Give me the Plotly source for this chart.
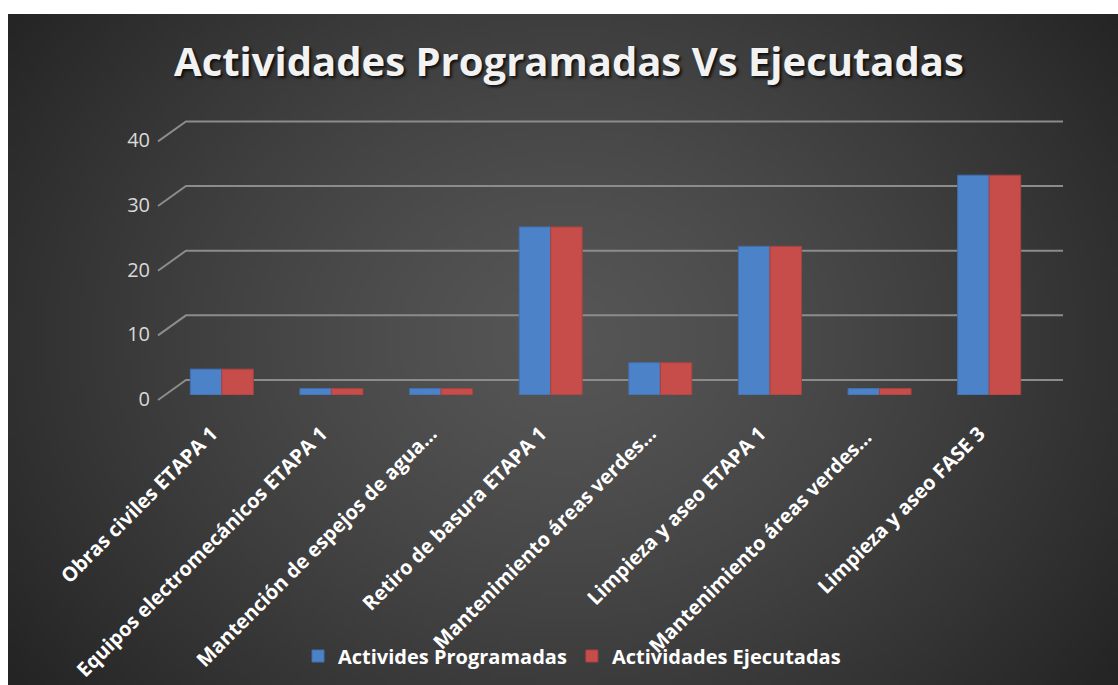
import base64, struct, zlib
import numpy as np
import plotly.graph_objects as go

categories = [
    "Obras civiles ETAPA 1",
    "Equipos electromecánicos ETAPA 1",
    "Mantención de espejos de agua…",
    "Retiro de basura ETAPA 1",
    "Mantenimiento áreas verdes…",
    "Limpieza y aseo ETAPA 1",
    "Mantenimiento áreas verdes… ",
    "Limpieza y aseo FASE 3",
]
programadas = [4, 1, 1, 26, 5, 23, 1, 34]
ejecutadas = [4, 1, 1, 26, 5, 23, 1, 34]
y_ticks = [0, 10, 20, 30, 40]

W, H = 1118, 685
L, R, T, B = 167, 74, 117, 290
Y_MAX = 43

pw = W - L - R
ph = H - T - B
bg_left, bg_top = 8, 14


def gradient_png(w, h):
    yy, xx = np.mgrid[0:h, 0:w].astype(float)
    cx, cy = w * 0.50, h * 0.48
    d = np.sqrt(((xx - cx) / (w * 0.62)) ** 2 + ((yy - cy) / (h * 0.85)) ** 2)
    v = 86 - 50 * np.clip(d, 0, 1) ** 1.3
    v = np.clip(v, 0, 255).astype(np.uint8)
    rgb = np.stack([v, v, v], axis=-1)
    raw = b"".join(b"\x00" + rgb[i].tobytes() for i in range(h))

    def chunk(t, data):
        c = struct.pack(">I", len(data)) + t + data
        return c + struct.pack(">I", zlib.crc32(t + data) & 0xFFFFFFFF)

    png = b"\x89PNG\r\n\x1a\n"
    png += chunk(b"IHDR", struct.pack(">IIBBBBB", w, h, 8, 2, 0, 0, 0))
    png += chunk(b"IDAT", zlib.compress(raw, 9))
    png += chunk(b"IEND", b"")
    return "data:image/png;base64," + base64.b64encode(png).decode()


# 3D-style gridlines (front-left diagonal + back wall line), derived from ticks
x_front = (158 - L) / pw
x_back = (186 - L) / pw
x_end = (1063 - L) / pw
grid_shapes = []
for v in y_ticks:
    yf = v / Y_MAX - 5 / ph
    yb = v / Y_MAX + 15 / ph
    grid_shapes.append(dict(
        type="path", xref="paper", yref="paper", layer="below",
        path=f"M {x_front},{yf} L {x_back},{yb} L {x_end},{yb}",
        line=dict(color="#8C8C8C", width=2),
    ))

fig = go.Figure()
fig.add_trace(go.Bar(
    x=categories, y=programadas, name="Activides Programadas",
    marker=dict(color="#4C82C8", line=dict(color="#3F6FAF", width=1)),
))
fig.add_trace(go.Bar(
    x=categories, y=ejecutadas, name="Actividades Ejecutadas",
    marker=dict(color="#C64D4A", line=dict(color="#A84240", width=1)),
))

fig.update_layout(
    width=W, height=H,
    margin=dict(l=L, r=R, t=T, b=B, pad=0, autoexpand=False),
    paper_bgcolor="white",
    plot_bgcolor="rgba(0,0,0,0)",
    barmode="group",
    bargap=0.425,
    bargroupgap=0,
    title=dict(
        text="Actividades Programadas Vs Ejecutadas",
        x=569 / W, xref="container", xanchor="center",
        y=1 - 62 / H, yref="container", yanchor="middle",
        font=dict(family="Open Sans", size=40, color="#F2F2F2", weight="bold",
                  shadow="2px 2px 3px rgba(0,0,0,0.8)"),
    ),
    font=dict(family="Open Sans", color="white"),
    showlegend=True,
    legend=dict(
        orientation="h", x=572 / W, xref="container", xanchor="center",
        y=1 - 656 / H, yref="container", yanchor="middle",
        font=dict(size=20, color="white", weight="bold"),
        itemwidth=30, traceorder="normal", bgcolor="rgba(0,0,0,0)",
    ),
    shapes=grid_shapes,
    images=[dict(
        source=gradient_png(222, 134),
        xref="paper", yref="paper",
        x=(bg_left - L) / pw, y=1 + (T - bg_top) / ph,
        sizex=(W - bg_left) / pw, sizey=(H - bg_top) / ph,
        xanchor="left", yanchor="top", sizing="stretch", layer="below",
    )],
)
fig.update_xaxes(
    tickangle=-45, showgrid=False, zeroline=False, showline=False,
    tickfont=dict(size=20, color="white", weight="bold"),
    ticks="", ticklabelstandoff=22, ticklabelshift=-10, automargin=False,
)
fig.update_yaxes(
    range=[0, Y_MAX], tickvals=y_ticks, ticktext=[str(v) for v in y_ticks],
    showgrid=False, zeroline=False, showline=False, ticks="",
    tickfont=dict(size=20, color="#D9D9D9"),
    ticklabelstandoff=16, ticklabelshift=4, automargin=False,
)

fig.write_html(
    "out.html",
    config={"displayModeBar": False},
    post_script="document.body.style.margin='0';document.body.style.overflow='hidden';",
)
